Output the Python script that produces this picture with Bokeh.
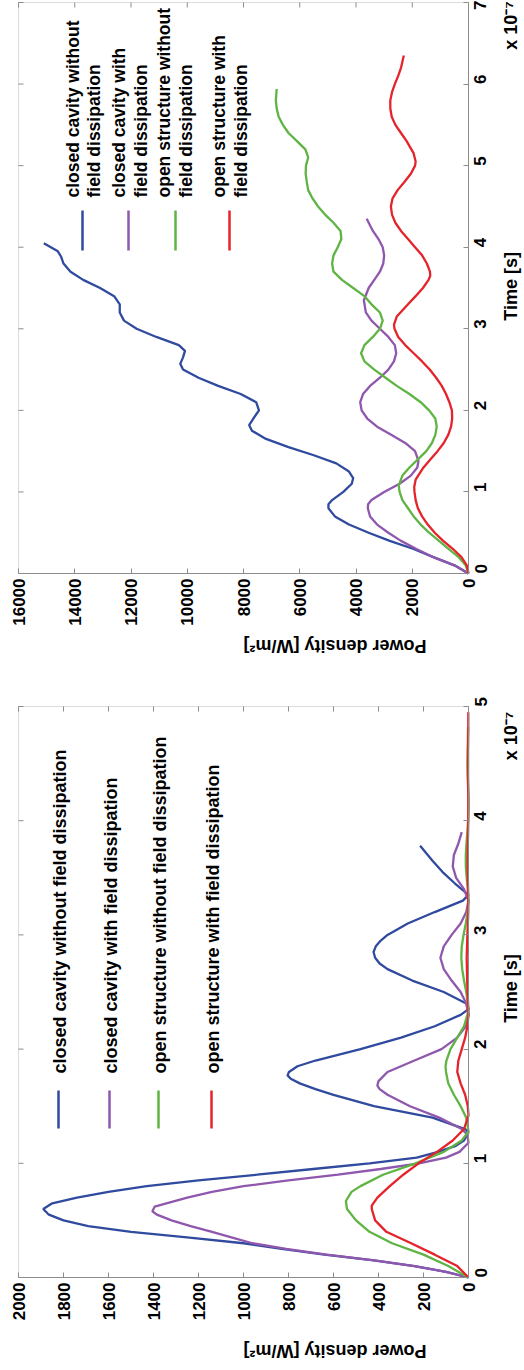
import math
from bokeh.plotting import figure
from bokeh.models import Range1d, LinearAxis, FixedTicker, Label, Arrow, BoxAnnotation
from bokeh.layouts import column
from bokeh.embed import file_html
from bokeh.resources import INLINE

# ---------------- data (time in units of 1e-7 s, power density in W/m^2) ----------------
series_names = [
    "closed cavity without field dissipation",
    "closed cavity with field dissipation",
    "open structure without field dissipation",
    "open structure with field dissipation",
]
legend_lines_top = [
    ("closed cavity without", "field dissipation"),
    ("closed cavity with", "field dissipation"),
    ("open structure without", "field dissipation"),
    ("open structure with", "field dissipation"),
]
colors = ["#2f4a9e", "#8f57ad", "#5fb443", "#e5232a"]

# --- lower chart (0 .. 5e-7 s) ---
a_blue_t = [0, 0.05, 0.1, 0.15, 0.2, 0.25, 0.3, 0.35, 0.4, 0.45, 0.5, 0.55, 0.6, 0.65, 0.7, 0.75, 0.8, 0.85, 0.9, 0.95,
            1.0, 1.05, 1.1, 1.15, 1.2, 1.27, 1.3, 1.4, 1.5, 1.6, 1.65, 1.7, 1.74, 1.77, 1.8, 1.85, 1.9, 2.0, 2.1, 2.2,
            2.3, 2.35, 2.4, 2.5, 2.6, 2.7, 2.75, 2.8, 2.85, 2.9, 2.95, 3.0, 3.1, 3.2, 3.3, 3.35, 3.45, 3.55, 3.65, 3.78]
a_blue_p = [0, 100, 240, 420, 640, 830, 1000, 1240, 1500, 1690, 1800, 1865, 1890, 1850, 1740, 1600, 1430, 1200, 940, 690,
            440, 230, 135, 60, 20, 0, 15, 160, 420, 600, 680, 750, 790, 804, 798, 760, 680, 480, 300, 150,
            35, 0, 10, 110, 250, 360, 395, 415, 422, 412, 390, 360, 270, 150, 25, 0, 60, 115, 160, 215]

a_purple_t = [0, 0.05, 0.1, 0.15, 0.2, 0.25, 0.3, 0.35, 0.4, 0.45, 0.5, 0.55, 0.58, 0.62, 0.7, 0.75, 0.8, 0.85, 0.9, 0.95,
              1.0, 1.05, 1.1, 1.18, 1.25, 1.3, 1.4, 1.5, 1.6, 1.65, 1.68, 1.72, 1.8, 1.9, 2.0, 2.1, 2.2, 2.3, 2.4, 2.5,
              2.6, 2.7, 2.8, 2.9, 3.0, 3.1, 3.2, 3.3, 3.4, 3.5, 3.6, 3.7, 3.8, 3.9]
a_purple_p = [0, 100, 240, 420, 630, 810, 960, 1050, 1140, 1235, 1320, 1385, 1405, 1395, 1250, 1140, 1000, 800, 580, 390,
              220, 100, 40, 0, 5, 30, 130, 260, 360, 395, 405, 400, 360, 240, 120, 50, 12, 0, 10, 35,
              75, 110, 125, 110, 75, 35, 10, 0, 20, 55, 70, 65, 45, 30]

a_green_t = [0, 0.1, 0.2, 0.3, 0.4, 0.5, 0.6, 0.67, 0.75, 0.8, 0.9, 1.0, 1.1, 1.2, 1.28, 1.4, 1.5, 1.6, 1.7, 1.8,
             1.85, 1.9, 2.0, 2.1, 2.2, 2.3, 2.35, 2.5, 2.6, 2.7, 2.8, 2.9, 3.0, 3.1, 3.2, 3.3, 3.4, 3.5, 3.6, 3.7,
             3.8, 3.9, 4.0, 4.1, 4.2, 4.3, 4.4, 4.5, 4.6, 4.7, 4.82]
a_green_p = [0, 90, 200, 340, 440, 500, 540, 545, 520, 480, 380, 235, 110, 30, 0, 10, 35, 65, 90, 100,
             102, 98, 80, 50, 20, 5, 0, 10, 20, 28, 32, 30, 22, 12, 4, 0, 3, 8, 12, 12,
             9, 5, 2, 0, 0, 2, 4, 5, 4, 3, 2]

a_red_t = [0, 0.1, 0.2, 0.3, 0.4, 0.5, 0.6, 0.63, 0.7, 0.8, 0.9, 1.0, 1.1, 1.2, 1.3, 1.42, 1.5, 1.6, 1.7, 1.8,
           1.9, 2.0, 2.1, 2.2, 2.3, 2.4, 2.6, 2.8, 3.0, 3.2, 3.4, 3.6, 3.8, 4.0, 4.2, 4.4, 4.6, 4.8, 4.95]
a_red_p = [0, 50, 150, 255, 365, 415, 430, 430, 405, 350, 290, 222, 140, 70, 20, 0, 3, 15, 35, 50,
           45, 30, 15, 5, 0, 2, 6, 8, 5, 1, 2, 4, 3, 1, 1, 2, 2, 1, 1]

# --- upper chart (0 .. 7e-7 s) ---
b_blue_t = [0, 0.1, 0.2, 0.3, 0.4, 0.5, 0.6, 0.7, 0.8, 0.85, 0.9, 1.0, 1.1, 1.17, 1.25, 1.35, 1.45, 1.55, 1.65, 1.75,
            1.82, 1.9, 2.0, 2.1, 2.2, 2.3, 2.4, 2.5, 2.57, 2.65, 2.73, 2.8, 2.9, 3.0, 3.1, 3.2, 3.3, 3.4, 3.5, 3.6,
            3.7, 3.8, 3.88, 3.95, 4.05]
b_blue_p = [0, 500, 1250, 1950, 2800, 3550, 4250, 4750, 4980, 4980, 4850, 4450, 4150, 4100, 4250, 4700, 5500, 6400, 7200, 7700,
            7800, 7650, 7450, 7550, 8100, 8900, 9600, 10150, 10250, 10150, 10080, 10300, 11100, 11800, 12250, 12400, 12400, 12600, 13100, 13700,
            14150, 14400, 14480, 14600, 15100]

b_purple_t = [0, 0.1, 0.2, 0.3, 0.4, 0.5, 0.6, 0.7, 0.8, 0.85, 0.9, 1.0, 1.1, 1.2, 1.3, 1.38, 1.5, 1.6, 1.7, 1.8,
              1.9, 2.0, 2.1, 2.2, 2.3, 2.4, 2.5, 2.6, 2.7, 2.8, 2.9, 3.0, 3.1, 3.2, 3.35, 3.5, 3.6, 3.7, 3.8, 3.9,
              4.0, 4.1, 4.2, 4.35]
b_purple_p = [0, 500, 1250, 1850, 2400, 2850, 3250, 3500, 3580, 3570, 3450, 3000, 2450, 2050, 1820, 1780, 1900, 2250, 2750, 3250,
              3600, 3800, 3850, 3750, 3500, 3150, 2850, 2650, 2570, 2620, 2850, 3150, 3450, 3650, 3720, 3550, 3350, 3150, 3030, 3000,
              3050, 3200, 3400, 3620]

b_green_t = [0, 0.1, 0.2, 0.3, 0.4, 0.5, 0.6, 0.7, 0.8, 0.9, 1.0, 1.08, 1.2, 1.3, 1.4, 1.5, 1.6, 1.7, 1.8, 1.9,
             2.0, 2.1, 2.2, 2.3, 2.4, 2.5, 2.6, 2.7, 2.8, 2.9, 3.0, 3.1, 3.2, 3.3, 3.4, 3.5, 3.6, 3.7, 3.8, 3.9,
             4.0, 4.1, 4.2, 4.3, 4.4, 4.5, 4.6, 4.7, 4.8, 4.9, 5.0, 5.1, 5.2, 5.3, 5.4, 5.5, 5.6, 5.7, 5.8, 5.94]
b_green_p = [0, 100, 350, 700, 1050, 1400, 1700, 1950, 2150, 2350, 2450, 2480, 2350, 2100, 1800, 1500, 1300, 1180, 1130, 1180,
             1400, 1700, 2100, 2550, 2950, 3350, 3700, 3820, 3700, 3400, 3150, 3050, 3150, 3450, 3700, 4100, 4500, 4800, 4850, 4800,
             4650, 4520, 4550, 4800, 5100, 5350, 5550, 5700, 5750, 5790, 5780, 5700, 5800, 6100, 6400, 6600, 6750, 6820, 6850, 6820]

b_red_t = [0, 0.1, 0.2, 0.3, 0.4, 0.5, 0.6, 0.7, 0.8, 0.9, 1.0, 1.06, 1.15, 1.3, 1.4, 1.5, 1.6, 1.7, 1.8, 1.9,
           2.0, 2.1, 2.2, 2.3, 2.4, 2.5, 2.6, 2.7, 2.8, 2.9, 3.0, 3.05, 3.15, 3.3, 3.4, 3.5, 3.6, 3.65, 3.7, 3.8,
           3.9, 4.0, 4.1, 4.2, 4.3, 4.4, 4.5, 4.6, 4.7, 4.8, 4.9, 5.0, 5.05, 5.15, 5.3, 5.4, 5.5, 5.6, 5.7, 5.8,
           5.9, 6.0, 6.1, 6.2, 6.35]
b_red_p = [0, 60, 250, 550, 900, 1200, 1450, 1650, 1800, 1880, 1920, 1930, 1880, 1600, 1350, 1100, 880, 720, 620, 580,
           590, 680, 800, 950, 1150, 1380, 1650, 1950, 2250, 2500, 2630, 2650, 2550, 2150, 1880, 1620, 1420, 1360, 1370, 1480,
           1650, 1900, 2150, 2400, 2600, 2720, 2760, 2700, 2520, 2280, 2050, 1900, 1880, 1950, 2200, 2400, 2600, 2730, 2780, 2780,
           2720, 2620, 2500, 2400, 2300]

top_power_ticks = [0, 2000, 4000, 6000, 8000, 10000, 12000, 14000, 16000]
top_time_ticks = [0, 1, 2, 3, 4, 5, 6, 7]
bottom_power_ticks = [0, 200, 400, 600, 800, 1000, 1200, 1400, 1600, 1800, 2000]
bottom_time_ticks = [0, 1, 2, 3, 4, 5]

power_label = "Power density [W/m\u00b2]"
time_label = "Time [s]"
exponent_label = "x 10\u207b\u2077"

# ---------------- layout / styling ----------------
FONT = "Liberation Sans"
GRAY = "#8c8c8c"
ROT = math.pi / 2
W = 524
BOX_L = 18          # left edge of the plot box (px)
BOX_W = 450         # plot box width (px)
BOX_H = 571         # plot box height (px)
TICK_LEN = 5


def make_chart(height, box_top, pmax, tmax, pticks, tticks, series, time_title_at, exp_at, power_title_standoff):
    box_bottom_gap = height - box_top - BOX_H          # px below the box
    right_gap = W - BOX_L - BOX_W                      # px right of the box
    # the frame spans the whole canvas; the plot box is a sub-region of it
    x_range = Range1d(pmax * (1 + BOX_L / BOX_W), -pmax * right_gap / BOX_W)
    y_range = Range1d(-tmax * box_bottom_gap / BOX_H, tmax * (1 + box_top / BOX_H))
    p = figure(width=W, height=height, x_range=x_range, y_range=y_range,
               x_axis_location=None, y_axis_location=None,
               toolbar_location=None, output_backend="svg",
               min_border_left=0, min_border_right=0, min_border_top=0, min_border_bottom=0)
    for g in list(p.xgrid) + list(p.ygrid):
        g.visible = False
    p.outline_line_color = None
    p.background_fill_color = "white"
    p.border_fill_color = "white"

    p.add_layout(BoxAnnotation(left=pmax, right=0, bottom=0, top=tmax, fill_color=None, fill_alpha=0,
                               line_color=GRAY, line_width=1, level="underlay"))

    xa = LinearAxis(fixed_location=0, bounds=(0, pmax), ticker=FixedTicker(ticks=pticks))
    ya = LinearAxis(fixed_location=0, bounds=(0, tmax), ticker=FixedTicker(ticks=tticks))
    xa.major_label_standoff = 5
    ya.major_label_standoff = 12
    for ax in (xa, ya):
        ax.major_tick_in = TICK_LEN
        ax.major_tick_out = 0
        ax.minor_tick_line_color = None
        ax.axis_line_color = GRAY
        ax.major_tick_line_color = GRAY
        ax.major_label_text_font = FONT
        ax.major_label_text_font_style = "bold"
        ax.major_label_text_font_size = "17px"
        ax.major_label_text_color = "black"
        ax.major_label_orientation = ROT
    ya.major_label_text_align = "center"
    p.add_layout(xa, "below")
    p.add_layout(ya, "right")

    # axis titles carried by label-only axes pinned to the box edges
    title_r = LinearAxis(fixed_location=0, ticker=FixedTicker(ticks=[time_title_at, exp_at]),
                         major_label_overrides={time_title_at: time_label, exp_at: exponent_label})
    pmid = pmax / 2.0
    title_b = LinearAxis(fixed_location=0, ticker=FixedTicker(ticks=[pmid]),
                         major_label_overrides={pmid: power_label})
    for ax, orient, so in ((title_r, ROT, 43), (title_b, math.pi, power_title_standoff)):
        ax.axis_line_color = None
        ax.major_tick_line_color = None
        ax.minor_tick_line_color = None
        ax.major_tick_in = 0
        ax.major_tick_out = 0
        ax.major_label_standoff = so
        ax.major_label_orientation = orient
        ax.major_label_text_font = FONT
        ax.major_label_text_font_style = "bold"
        ax.major_label_text_font_size = "18px"
        ax.major_label_text_color = "black"
    p.add_layout(title_r, "right")
    p.add_layout(title_b, "below")

    # mirrored inward ticks on the top and left edges of the box (screen px from frame bottom-left)
    top_sy = height - box_top
    for tk in pticks:
        sx = BOX_L + (pmax - tk) / pmax * BOX_W
        p.add_layout(Arrow(x_start=sx, y_start=top_sy, x_end=sx, y_end=top_sy - TICK_LEN,
                           start_units="screen", end_units="screen", end=None,
                           line_color=GRAY, line_width=1))
    for tk in tticks:
        sy = box_bottom_gap + tk / tmax * BOX_H
        p.add_layout(Arrow(x_start=BOX_L, y_start=sy, x_end=BOX_L + TICK_LEN, y_end=sy,
                           start_units="screen", end_units="screen", end=None,
                           line_color=GRAY, line_width=1))

    for (tt, pp), c in zip(series, colors):
        p.line(x=pp, y=tt, line_color=c, line_width=2.3)
    return p


def add_text(p, height, x, y, text, size):
    # x, y: pixel position in the figure, measured from its top-left corner
    p.add_layout(Label(x=x, y=height - y, x_units="screen", y_units="screen", text=text, angle=ROT,
                       text_align="left", text_baseline="middle", text_font=FONT,
                       text_font_style="bold", text_font_size=size, text_color="black"))


def add_legend_line(p, height, x, y_top, y_bottom, c):
    p.add_layout(Arrow(x_start=x, y_start=height - y_bottom, x_end=x, y_end=height - y_top,
                       start_units="screen", end_units="screen", end=None, line_color=c, line_width=2.5))


# ---------------- upper chart ----------------
H_TOP = 660
top = make_chart(H_TOP, 2, 16000, 7, top_power_ticks, top_time_ticks,
                 [(b_blue_t, b_blue_p), (b_purple_t, b_purple_p), (b_green_t, b_green_p), (b_red_t, b_red_p)],
                 3.10, 6.42, 72)
top_line_x = [82, 128, 175, 229]
top_text1_x = [72, 118, 163, 218]
top_text2_x = [93, 140, 185, 240]
for k in range(4):
    add_legend_line(top, H_TOP, top_line_x[k], 210, 250, colors[k])
    add_text(top, H_TOP, top_text1_x[k], 197, legend_lines_top[k][0], "17.5px")
    add_text(top, H_TOP, top_text2_x[k], 197, legend_lines_top[k][1], "17.5px")

# ---------------- lower chart ----------------
H_BOT = 710
bottom = make_chart(H_BOT, 46, 2000, 5, bottom_power_ticks, bottom_time_ticks,
                    [(a_blue_t, a_blue_p), (a_purple_t, a_purple_p), (a_green_t, a_green_p), (a_red_t, a_red_p)],
                    2.23, 4.53, 73)
bot_line_x = [58, 109, 158, 211]
for k in range(4):
    add_legend_line(bottom, H_BOT, bot_line_x[k], 430, 468, colors[k])
    add_text(bottom, H_BOT, bot_line_x[k] + 1, 413, series_names[k], "18px")

layout = column(top, bottom, spacing=0)
open("out.html", "w").write(file_html(layout, INLINE))
